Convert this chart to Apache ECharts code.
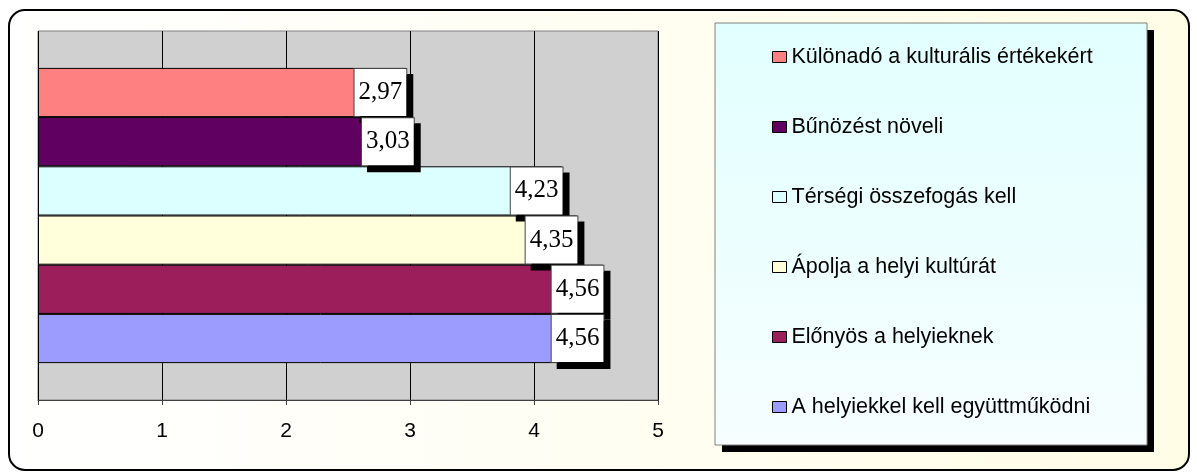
<!DOCTYPE html>
<html>
<head>
<meta charset="utf-8">
<title>chart</title>
<script src="https://cdn.jsdelivr.net/npm/echarts@6/dist/echarts.min.js"></script>
<style>
    html, body { margin: 0; padding: 0; background: #fff; }
    #main { width: 1197px; height: 473px; }
</style>
</head>
<body>
<div id="main"></div>
<script>
// 数据
var names = ['Különadó a kulturális értékekért', 'Bűnözést növeli', 'Térségi összefogás kell',
    'Ápolja a helyi kultúrát', 'Előnyös a helyieknek', 'A helyiekkel kell együttműködni']
var values = [2.97, 3.03, 4.23, 4.35, 4.56, 4.56]
var colors = ['#ff8080', '#600060', '#dcffff', '#ffffdc', '#9c1f5c', '#9c9cff']
var xTicks = [0, 1, 2, 3, 4, 5]

var myChart = echarts.init(document.getElementById('main'))

var series = []
for (var i = 0; i < names.length; i++) {
    series.push({
        name: names[i],
        type: 'bar',
        data: [values[i]],
        barGap: 0,
        barCategoryGap: '20%',
        itemStyle: {
            color: colors[i],
            borderColor: '#000',
            borderWidth: 1
        },
        label: {
            show: true,
            position: 'insideRight',
            distance: 0,
            formatter: function(p) {
                return p.value.toFixed(2).replace('.', ',')
            },
            fontFamily: 'Liberation Serif',
            fontSize: 25,
            color: '#000',
            backgroundColor: '#fff',
            borderColor: '#444',
            borderWidth: 1,
            padding: [0, 4],
            height: 47,
            lineHeight: 47,
            shadowColor: '#000',
            shadowBlur: 0,
            shadowOffsetX: 6,
            shadowOffsetY: 6
        }
    })
}

var option = {
    animation: false,
    graphic: [{
        type: 'rect',
        z: -10,
        shape: { x: 9, y: 10, width: 1180, height: 460, r: 16 },
        style: {
            fill: new echarts.graphic.LinearGradient(0, 0, 1, 0, [
                { offset: 0, color: '#ffffff' },
                { offset: 1, color: '#fffde6' }
            ]),
            stroke: '#000',
            lineWidth: 2
        }
    }, {
        // 图例阴影
        type: 'rect',
        z: -6,
        shape: { x: 722, y: 30, width: 432, height: 422 },
        style: { fill: '#000' }
    }, {
        type: 'rect',
        z: -5,
        shape: { x: 715, y: 23, width: 432, height: 422 },
        style: {
            fill: new echarts.graphic.LinearGradient(0, 0, 0, 1, [
                { offset: 0, color: '#e2ffff' },
                { offset: 1, color: '#f6feff' }
            ]),
            stroke: '#808080',
            lineWidth: 1
        }
    }],
    legend: {
        orient: 'vertical',
        left: 772,
        top: 46,
        padding: 0,
        itemWidth: 14,
        itemHeight: 11,
        itemGap: 48,
        icon: 'rect',
        selectedMode: false,
        itemStyle: { borderColor: '#000', borderWidth: 1 },
        textStyle: {
            fontFamily: 'Liberation Sans',
            fontSize: 21.5,
            lineHeight: 22,
            color: '#000'
        },
        data: names
    },
    grid: {
        left: 38,
        right: 539,
        top: 31,
        bottom: 73,
        show: true,
        backgroundColor: '#d0d0d0',
        borderColor: '#808080',
        borderWidth: 1
    },
    xAxis: {
        type: 'value',
        min: xTicks[0],
        max: xTicks[xTicks.length - 1],
        interval: 1,
        axisLine: { show: true, lineStyle: { color: '#404040', width: 1 } },
        axisTick: { show: true, length: 5, lineStyle: { color: '#404040' } },
        splitLine: { show: true, lineStyle: { color: '#000', width: 1 } },
        axisLabel: {
            fontFamily: 'Liberation Sans',
            fontSize: 21,
            color: '#000',
            margin: 21
        }
    },
    yAxis: {
        type: 'category',
        data: [''],
        inverse: true,
        axisLine: { show: false },
        axisTick: { show: false },
        axisLabel: { show: false },
        splitLine: { show: false }
    },
    series: series
}

myChart.setOption(option)
</script>
</body>
</html>
